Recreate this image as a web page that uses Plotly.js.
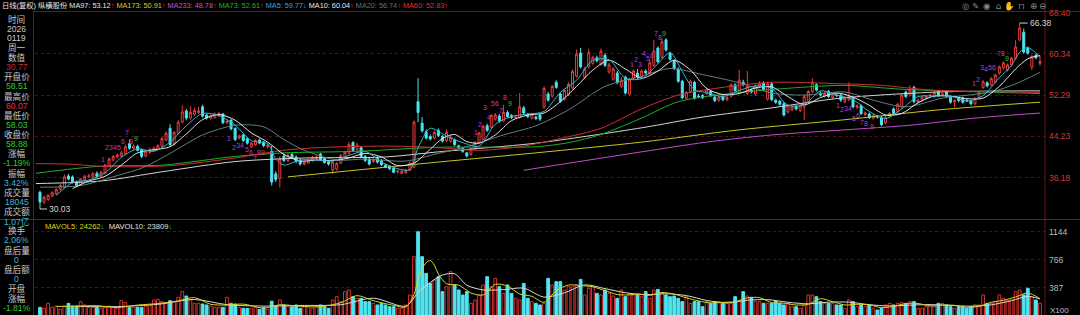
<!DOCTYPE html>
<html><head><meta charset="utf-8">
<script src="https://cdn.plot.ly/plotly-3.0.1.min.js"></script>
<style>html,body{margin:0;padding:0;background:#000;overflow:hidden}#chart{width:1080px;height:315px}</style>
</head><body><div id="chart"></div>
<script>
// ---------- DATA ----------
const open = [33.3,31.4,31.9,32.6,33.0,33.9,34.3,36.5,36.3,35.3,34.8,35.8,36.4,36.3,37.0,36.4,37.0,38.5,39.6,40.2,
40.4,40.8,42.8,41.9,42.3,41.6,40.4,41.1,41.5,41.7,42.3,43.5,45.8,42.7,44.8,47.0,49.2,47.8,48.5,48.9,
50.0,48.4,47.8,47.9,48.3,48.6,46.9,47.4,45.8,43.9,44.5,43.8,42.2,42.6,43.5,43.1,42.2,41.3,36.9,36.0,
40.4,39.5,40.7,40.2,39.6,38.8,39.0,39.5,39.9,40.8,39.9,39.2,37.6,37.8,39.0,40.2,40.9,43.0,41.6,42.0,
40.3,39.8,39.3,40.0,39.5,38.6,38.4,38.0,37.3,37.0,37.1,37.6,38.2,51.0,46.8,45.1,44.2,43.9,45.4,44.2,
43.4,43.3,43.5,42.4,41.9,41.0,40.7,41.8,43.0,43.6,46.3,46.0,47.6,48.2,47.2,48.9,48.3,47.9,47.9,49.8,
48.5,47.8,48.0,48.4,50.0,52.5,52.1,54.8,52.5,51.5,52.4,53.7,56.0,60.5,55.8,57.8,58.5,59.6,58.3,60.1,
56.8,55.4,56.6,54.0,55.8,52.5,55.6,56.6,55.8,57.0,56.6,58.1,61.5,59.7,63.1,60.5,59.0,57.4,55.0,51.7,
53.0,54.8,52.1,52.2,52.6,53.0,51.9,51.3,52.0,51.4,52.1,54.3,52.8,54.8,52.6,53.3,52.5,54.0,54.6,51.5,
54.5,51.3,51.1,50.6,49.0,49.4,50.1,49.3,50.0,51.0,53.0,54.3,52.7,52.1,53.0,51.8,52.3,52.3,51.0,51.4,
51.6,49.9,50.2,48.5,48.6,47.8,48.1,47.9,46.9,48.3,49.6,49.1,50.0,52.9,52.3,53.8,50.9,51.3,51.7,52.2,
52.0,53.0,52.3,53.0,51.9,51.0,51.7,51.7,51.3,51.1,50.6,51.8,53.8,54.7,54.3,54.9,56.6,57.6,57.2,58.2,
59.5,63.1,64.6,61.5,57.8,60.1,58.51];
const high = [33.6,32.6,32.9,33.5,34.1,34.9,36.8,36.9,36.6,35.6,36.1,36.7,36.9,37.3,37.4,37.5,38.9,40.1,40.6,40.9,
41.4,42.6,43.6,42.7,42.6,41.8,41.5,42.0,42.2,42.7,44.1,45.2,46.6,45.3,47.4,50.3,49.6,50.1,49.8,50.0,
50.4,48.7,48.5,48.9,49.0,48.8,47.5,47.6,46.0,44.6,44.7,44.0,43.2,43.7,43.8,43.3,42.8,42.4,37.4,40.3,
40.9,41.0,41.1,40.5,39.9,39.5,39.9,40.4,40.5,41.0,40.1,39.5,39.5,39.2,40.8,41.4,43.2,43.3,43.0,42.3,
40.6,40.0,40.0,40.3,39.8,38.9,38.6,38.3,37.7,37.7,37.9,39.3,47.3,55.6,48.0,45.6,44.6,45.4,45.8,44.5,
45.6,44.4,43.8,42.6,42.1,41.2,42.0,43.3,45.1,46.5,46.7,48.6,48.8,48.6,50.4,49.3,48.6,48.4,52.7,50.2,
48.8,48.8,48.3,48.6,54.0,52.9,54.3,55.2,52.8,53.5,54.8,57.3,61.2,61.5,57.8,61.4,60.0,60.0,61.4,60.5,
58.6,57.8,57.0,55.8,56.1,55.6,57.3,57.4,57.3,57.3,59.2,63.1,61.8,63.4,63.4,60.8,59.3,57.7,55.3,53.1,
55.3,55.1,52.5,52.5,53.7,53.3,52.2,52.2,52.3,52.1,54.6,54.6,57.2,55.3,57.0,53.6,54.4,55.0,55.0,54.9,
54.8,51.6,51.4,50.9,50.5,50.3,50.4,50.5,52.3,53.3,55.6,54.6,53.0,52.9,53.3,52.6,52.6,52.6,51.9,54.8,
51.9,50.5,50.5,49.1,48.9,48.6,48.4,48.2,48.2,49.0,49.9,50.8,52.6,53.2,54.2,54.1,51.6,52.2,52.3,52.6,
53.1,53.3,52.8,53.3,52.2,51.5,52.0,52.0,51.6,51.4,51.9,53.1,55.2,55.0,55.8,56.5,58.1,58.9,58.5,59.8,
63.1,66.38,65.3,61.8,60.2,60.4,60.07];
const low = [30.03,31.0,31.6,32.3,32.8,33.6,34.1,35.6,35.0,34.3,34.6,35.5,36.1,36.1,36.2,36.2,36.8,38.3,39.3,39.9,
40.1,40.6,41.6,41.6,41.3,40.0,40.1,40.8,41.3,41.5,42.1,43.3,42.3,42.4,44.6,46.8,47.4,47.5,48.2,48.6,
47.9,47.5,47.5,47.7,48.0,46.6,46.6,45.4,43.3,43.6,43.1,42.6,42.0,42.4,42.7,42.1,41.9,34.6,35.3,34.2,
39.2,39.2,39.8,39.0,38.5,38.5,38.8,39.2,39.6,39.4,38.9,38.5,36.9,37.5,38.8,40.0,40.7,41.2,41.3,40.0,
39.2,38.5,39.0,38.9,38.4,38.0,37.6,37.0,37.0,36.8,36.9,37.4,38.0,47.0,45.0,43.6,43.4,43.6,44.1,43.0,
43.1,43.0,42.3,41.8,41.0,40.1,40.4,41.6,42.8,43.4,45.1,45.8,47.3,46.9,47.0,47.8,47.6,47.6,47.7,48.5,
47.8,47.6,47.4,47.2,49.6,51.0,51.8,53.5,50.8,51.2,52.1,53.4,55.7,57.5,55.4,57.5,58.2,58.7,58.0,57.8,
56.5,55.1,54.4,53.7,52.4,52.2,55.3,55.4,55.5,56.3,56.3,57.8,58.5,59.4,60.8,59.0,57.2,54.7,51.5,51.4,
52.7,51.4,51.7,51.5,52.3,51.9,50.9,51.0,51.1,51.1,51.8,52.9,52.5,54.0,52.3,52.6,52.2,53.7,53.1,51.2,
51.1,50.6,50.2,48.1,48.7,49.1,49.3,49.0,47.4,50.7,52.7,53.0,52.0,51.8,51.7,51.5,51.9,51.0,50.7,51.1,
49.7,49.6,48.4,48.2,47.6,47.5,47.7,46.2,46.6,48.0,48.4,48.8,49.7,51.7,52.0,50.7,50.6,51.0,51.4,51.9,
51.7,51.9,52.0,51.8,50.6,49.9,50.9,50.6,50.9,50.3,50.3,51.5,53.5,53.8,54.0,54.6,56.3,57.3,56.9,57.9,
59.2,62.8,60.4,60.2,57.2,59.3,58.03];
const close = [31.4,32.3,32.7,33.2,33.8,34.6,36.3,35.9,35.2,34.6,35.9,36.4,36.5,36.9,36.4,37.2,38.6,39.8,40.3,40.6,
41.0,42.2,41.9,42.3,41.5,40.3,41.2,41.7,41.9,42.4,43.8,44.8,42.6,45.0,47.0,49.0,47.8,48.9,49.3,49.2,
48.2,47.8,48.2,48.6,48.7,46.9,47.2,45.7,43.6,44.3,43.4,42.9,42.9,43.4,42.9,42.4,42.5,35.3,35.8,39.8,
39.5,40.5,40.0,39.3,38.8,39.2,39.6,40.1,40.2,39.7,39.1,38.8,39.2,38.9,40.5,41.1,42.6,41.5,42.5,40.3,
39.5,38.8,39.7,39.2,38.7,38.2,37.9,37.2,37.4,37.4,37.6,39.0,47.0,48.9,45.3,43.9,43.7,45.0,44.4,43.3,
45.0,44.0,42.6,42.1,41.3,40.4,41.8,43.1,44.9,46.2,45.4,48.3,48.4,47.2,48.9,48.1,47.9,48.0,50.0,48.8,
48.1,48.5,47.7,47.6,53.6,51.3,54.0,53.8,51.1,53.2,54.4,56.9,60.3,57.8,57.4,60.6,59.6,59.0,60.9,58.1,
58.2,57.4,54.7,55.2,52.7,55.3,57.0,55.7,57.0,56.6,58.6,60.9,58.8,62.7,61.1,59.3,57.5,55.0,51.8,52.8,
55.0,51.7,52.0,51.8,53.3,52.2,51.2,51.9,51.4,51.8,54.3,53.2,55.2,54.3,54.0,52.9,54.1,54.6,53.4,54.5,
51.4,50.9,50.5,48.4,50.2,50.0,49.6,50.2,52.0,53.0,54.8,53.3,52.3,52.6,52.0,52.3,52.2,51.3,51.6,52.1,
50.0,50.2,48.7,48.8,47.9,48.3,48.0,46.5,47.9,48.7,48.7,50.5,52.3,52.0,53.3,51.0,51.3,51.9,52.0,52.3,
52.8,52.2,52.5,52.1,50.9,51.2,51.2,50.9,51.2,50.6,51.6,52.8,54.9,54.1,55.5,56.2,57.8,58.6,58.2,59.5,
61.7,65.4,60.7,60.5,59.8,59.59,58.88];
const volume = [125,112,179,125,143,98,143,179,143,143,202,157,125,125,125,112,125,143,125,112,
215,188,125,125,125,125,143,157,224,233,202,179,215,202,260,337,278,224,179,179,
170,157,143,125,125,125,260,179,170,125,112,112,112,125,98,125,98,208,143,224,
157,134,134,157,112,134,134,112,134,157,134,112,224,269,202,337,359,269,247,247,
202,202,179,157,179,157,134,134,112,112,157,292,809,1146,809,584,449,494,539,
337,404,607,427,359,292,337,179,224,292,427,539,404,517,404,314,427,314,247,224,
449,247,202,179,157,179,517,427,472,472,359,404,404,427,503,292,382,404,314,292,
359,314,278,247,359,269,314,292,292,
269,337,247,359,367,314,292,269,278,247,202,269,179,202,202,134,202,179,202,202,
179,179,179,269,202,337,278,260,202,202,179,179,179,211,179,157,179,134,134,112,
157,292,292,269,202,179,179,179,157,
157,112,224,202,134,157,134,157,112,89,112,157,179,157,179,188,179,202,202,112,
112,134,157,134,179,179,157,134,112,134,134,112,134,157,157,292,179,179,202,292,
247,224,224,337,359,292,382,269,224,180];

// moving-average lines, read as points off the picture (index, value)
const ma5Idx = [4,8,12,16,20,24,28,32,36,40,44,48,52,56,58,60,64,68,72,76,80,84,88,91,93,96,100,104,108,112,116,120,124,128,132,136,140,144,148,152,155,158,161,164,168,172,176,180,184,188,192,196,200,204,208,212,216,220,224,228,232,236,239,241,243,246];
const ma5Val = [32.7,35.2,35.7,37.1,40.1,41.8,41.3,43.1,46.3,48.7,48.3,46.4,43.4,42.8,39.8,38.6,39.6,39.6,39.4,40.5,41.3,39.2,37.9,37.7,42.0,45.8,44.3,43.0,42.3,46.6,48.1,48.6,49.1,52.8,55.2,59.1,59.2,55.6,55.5,58.4,60.6,56.9,53.3,52.8,52.0,53.2,54.1,53.6,50.3,50.4,53.1,52.3,51.4,49.1,47.7,49.6,52.0,52.1,52.1,51.1,52.2,55.7,58.1,60.7,61.6,59.77];
const ma10Idx = [8,12,16,20,24,28,32,36,40,44,48,52,56,60,64,68,72,76,80,84,88,92,96,99,102,105,108,112,116,120,124,128,132,136,140,144,148,152,156,160,164,168,172,176,180,184,188,192,196,200,204,208,212,216,220,224,228,232,236,240,243,246];
const ma10Val = [34.0,35.5,36.4,38.6,41.0,41.6,42.2,44.7,47.5,48.5,47.4,44.9,43.1,40.7,39.4,39.6,39.5,40.0,40.9,40.2,38.5,39.0,41.7,43.8,44.6,43.2,42.9,44.5,47.3,48.4,48.8,51.0,54.0,57.2,59.1,57.4,55.6,57.0,59.1,57.2,53.6,52.4,52.6,53.7,53.9,52.0,50.4,51.8,52.7,51.9,50.3,48.4,48.7,50.8,52.1,52.1,51.6,51.7,54.0,57.4,59.4,60.04];
const ma20Idx = [0,10,20,25,30,35,40,48,55,60,65,73,80,90,98,105,114,122,130,139,148,155,163,172,180,188,198,205,213,222,234,240,246];
const ma20Val = [34.3,34.6,36.8,38.0,40.0,42.3,44.5,46.4,46.1,43.6,41.5,39.6,39.8,39.4,40.9,42.2,44.5,46.3,49.4,54.0,56.0,57.5,56.3,54.7,52.7,52.3,52.9,51.3,50.0,51.7,52.9,54.5,56.74];
const ma60Idx = [-1,7,17,32,48,61,74,89,98,108,118,128,138,148,157,167,180,197,207,219,246];
const ma60Val = [38.9,38.8,38.3,38.5,40.0,41.6,42.2,42.3,42.0,41.5,42.2,43.8,45.8,49.6,52.3,53.7,54.8,54.5,54.2,53.3,52.83];
const ma73Idx = [-1,15,30,48,60,78,98,122,130,138,148,157,172,189,198,213,246];
const ma73Val = [37.0,38.4,38.6,40.3,41.0,41.3,42.1,42.2,43.0,44.6,47.8,51.0,52.8,53.9,54.2,53.4,52.61];
const ma97Idx = [-1,15,30,48,65,85,98,122,148,163,180,197,221,246];
const ma97Val = [35.0,35.5,37.3,39.3,40.0,40.2,41.2,42.9,45.9,48.0,49.8,51.7,52.9,53.12];
const ma173Idx = [61,98,122,148,172,197,221,246];
const ma173Val = [36.3,39.2,41.0,43.1,45.5,47.4,49.4,50.91];
const ma233Idx = [119,148,164,180,198,214,230,246];
const ma233Val = [37.6,41.2,43.1,44.5,45.5,46.4,47.8,48.78];
const mavol5Idx = [4,9,14,19,24,29,34,38,42,46,50,55,59,64,69,74,78,82,87,90,92,93,94,95,96,97,98,100,103,106,109,112,115,118,121,124,127,130,133,136,139,142,145,147,150,153,156,159,162,165,168,171,174,177,180,183,186,189,192,195,198,201,204,207,210,213,216,219,222,225,228,231,234,237,240,243,246];
const mavol5Val = [137,141,147,123,156,176,212,256,166,156,169,114,160,139,134,188,283,215,152,130,296,503,643,728,759,696,575,443,425,319,292,436,413,305,274,193,350,427,419,402,350,298,293,305,287,325,304,253,211,184,193,202,253,256,188,181,157,166,242,202,157,166,157,121,139,176,177,143,157,152,125,139,193,220,265,319,242.6];
const mavol10Idx = [9,19,29,38,46,55,64,74,82,90,93,96,99,102,105,109,114,119,124,129,134,139,144,149,154,159,164,169,174,179,184,189,194,199,204,209,214,219,224,229,234,239,243,246];
const mavol10Val = [139,135,166,231,161,142,150,161,249,141,323,460,561,579,424,360,364,384,263,321,428,378,322,297,308,284,218,186,221,229,193,173,195,195,161,143,155,162,150,141,159,215,274,238.1];

// price / volume axis tick labels
const priceTicks = [36.18,44.23,52.29,60.34,68.40];
const priceTickText = ['36.18','44.23','52.29','60.34','68.40'];
const volTicks = [387,766,1144];
const volTickText = ['387','766','1144'];

// sequence-count digits drawn over the candles: [index, price, digit]
const tdMarks = [
 [15.5,39.8,'1'],[16.5,42.1,'2'],[17.5,42.1,'3'],[18.5,42.1,'4'],[19.5,42.1,'5'],[20.5,43.3,'6'],[21.5,45.0,'7'],[22.5,43.3,'8'],[23.5,43.9,'9'],
 [46.5,43.9,'1'],[47.6,42.1,'2'],[48.6,42.5,'3'],[49.6,42.5,'4'],[50.8,41.7,'5'],[51.8,41.0,'6'],[52.8,39.9,'7'],[53.8,41.0,'8'],[54.8,41.0,'9'],
 [107.2,45.05,'1'],[108.2,46.6,'2'],[109.4,49.8,'3'],[110.4,48.0,'4'],[111.5,50.7,'5'],[112.5,50.7,'6'],[113.5,49.2,'7'],[114.5,51.8,'8'],[115.6,50.7,'9'],
 [145.6,58.2,'1'],[146.6,59.3,'2'],[147.6,58.2,'3'],[148.6,60.5,'4'],[149.6,59.5,'5'],[150.6,60.1,'6'],[151.6,64.4,'7'],[152.6,63.6,'8'],[153.6,64.4,'9'],
 [196.2,50.2,'1'],[197.2,49.4,'2'],[198.2,49.6,'3'],[199.2,49.6,'4'],[200.2,47.8,'5'],[201.2,48.4,'6'],[202.3,47.0,'7'],[203.3,46.8,'8'],[204.6,46.1,'9'],
 [229.8,54.5,'1'],[230.8,55.3,'2'],[231.8,57.6,'3'],[232.8,57.3,'4'],[233.8,57.6,'5'],[234.8,57.6,'6'],[235.8,60.5,'7'],[236.8,60.5,'8'],[237.8,59.5,'9']
];
const tdNineColor = ['#22d022','#e04848','#22d022','#22d022','#e04848','#22d022'];

// ---------- STYLE / LAYOUT ----------
const days = close.map((_, i) => i);
const RED = '#f03c3c', CYAN = '#4fe4f0';
const up = close.map((c, i) => c >= open[i]);
const volFill = up.map(u => u ? 'rgba(0,0,0,0)' : CYAN);
const volLine = up.map(u => u ? '#d83030' : CYAN);

const L = 35, R = 1045, H = 315;
const px = x => (x - L) / (R - L);
const py = y => 1 - y / H;
const FAM = 'Liberation Sans, Noto Sans CJK SC, sans-serif';

function maLine(xs, ys, color, yaxis) {
  return {type:'scatter', mode:'lines', x:xs, y:ys, xaxis:'x', yaxis:yaxis||'y',
    line:{color:color, width:1, shape:'spline', smoothing:0.8}, hoverinfo:'skip'};
}

const traces = [
  maLine(ma233Idx, ma233Val, '#c04ec8'),
  maLine(ma173Idx, ma173Val, '#c8c81e'),
  maLine(ma97Idx, ma97Val, '#d4d4d4'),
  maLine(ma73Idx, ma73Val, '#1fae1f'),
  maLine(ma60Idx, ma60Val, '#cc3030'),
  maLine(ma20Idx, ma20Val, '#5f8080'),
  maLine(ma10Idx, ma10Val, '#e6e6e6'),
  maLine(ma5Idx, ma5Val, '#35b6d2'),
  {type:'candlestick', x:days, open:open, high:high, low:low, close:close, xaxis:'x', yaxis:'y',
   whiskerwidth:0, hoverinfo:'skip',
   increasing:{line:{color:RED, width:1}, fillcolor:'#000000'},
   decreasing:{line:{color:CYAN, width:1}, fillcolor:CYAN}},
  {type:'bar', x:days, y:volume, xaxis:'x', yaxis:'y2', width:0.68, hoverinfo:'skip',
   marker:{color:volFill, line:{color:volLine, width:1}}},
  maLine(mavol10Idx, mavol10Val, '#d8d8d8', 'y2'),
  maLine(mavol5Idx, mavol5Val, '#d6d620', 'y2')
];

const ann = [];
function txt(x, y, text, color, size, anchor, fam) {
  ann.push({xref:'paper', yref:'paper', x:px(x), y:py(y), text:text, showarrow:false,
    xanchor:anchor||'left', yanchor:'middle', borderpad:0,
    font:{color:color, size:size||8, family:fam||FAM}});
}
const sp = (c, t) => '<span style="color:' + c + '">' + t + '</span>';
const upA = sp('#e03030', '↑');
const dnA = sp('#20c0a0', '↓');
// header (one line)
txt(1, 5.5,
  sp('#e8e8e8', '日线(复权) 纵横股份') + ' ' +
  sp('#e6e6e6', 'MA97: 53.12') + upA + ' ' +
  sp('#d0d020', 'MA173: 50.91') + upA + ' ' +
  sp('#c850d0', 'MA233: 48.78') + upA + ' ' +
  sp('#22b822', 'MA73: 52.61') + upA + ' ' +
  sp('#35a8d8', 'MA5: 59.77') + dnA + ' ' +
  sp('#e6e6e6', 'MA10: 60.04') + upA + ' ' +
  sp('#4f7c7c', 'MA20: 56.74') + upA + ' ' +
  sp('#e03030', 'MA60: 52.83') + upA,
  '#e6e6e6', 7.3);
// toolbar glyphs
const icons = ['◎','✎','◉','⌂','✋','⊓','⊕','⊖'];
const iconX = [965,975,986,998,1009,1021,1033,1042];
icons.forEach((g, i) => txt(iconX[i], 6, g, '#8c8c8c', 8.5, 'center', 'DejaVu Sans'));
// volume header
txt(44, 226, sp('#d8d820', 'MAVOL5: 24262') + dnA + '  ' + sp('#e0e0e0', 'MAVOL10: 23809') + dnA, '#e0e0e0', 7.6);
txt(1049, 310, 'X100', '#c0c0c0', 8);
// left info panel
const G = '#2ccf2c', LB = '#c8c8c8', CY = '#38b8dc';
const rows = [['时间',LB],['2026',LB],['0119',LB],['周一',LB],['数值',LB],['30.77','#c03030'],
  ['开盘价',LB],['58.51',G],['最高价',LB],['60.07','#e83838'],['最低价',LB],['58.03',G],
  ['收盘价',LB],['58.88',G],['涨幅',LB],['-1.19%',G],['振幅',LB],['3.42%',CY],
  ['成交量',LB],['18045',CY],['成交额',LB],['1.07亿',CY],['换手',LB],['2.06%',CY],
  ['盘后量',LB],['0',CY],['盘后额',LB],['0',CY],['开盘',LB],['涨幅',LB],['-1.81%',G]];
rows.forEach((r, i) => txt(16.5, 19 + i * 9.63, r[0], r[1], 8.6, 'center'));
// sequence digits
let nine = 0;
tdMarks.forEach(m => {
  const c = m[2] === '9' ? tdNineColor[nine++] : '#c23cc8';
  ann.push({xref:'x', yref:'y', x:m[0], y:m[1], text:m[2], showarrow:false, borderpad:0,
    font:{color:c, size:7, family:'Liberation Sans'}});
});
// high / low markers
ann.push({xref:'x', yref:'y', x:241, y:66.38, text:'66.38', showarrow:true, arrowhead:0,
  arrowwidth:1, arrowcolor:'#cfcfcf', ax:8, ay:0, xanchor:'left',
  font:{color:'#d6d6d6', size:8.5, family:'Liberation Sans'}});
ann.push({xref:'x', yref:'y', x:0, y:30.03, text:'30.03', showarrow:true, arrowhead:0,
  arrowwidth:1, arrowcolor:'#cfcfcf', ax:7, ay:0, xanchor:'left',
  font:{color:'#d6d6d6', size:8.5, family:'Liberation Sans'}});

const BR = '#6e1414';
const shapes = [
  {type:'line', xref:'paper', yref:'paper', x0:1, x1:1, y0:0, y1:1, line:{color:BR, width:1}},
  {type:'line', xref:'paper', yref:'paper', x0:px(33.5), x1:px(33.5), y0:0, y1:py(11), line:{color:BR, width:1}},
  {type:'line', xref:'paper', yref:'paper', x0:px(33), x1:px(1080), y0:py(11.5), y1:py(11.5), line:{color:BR, width:1}},
  {type:'line', xref:'paper', yref:'paper', x0:px(0), x1:px(1080), y0:py(219.5), y1:py(219.5), line:{color:'#7a1616', width:1}}
];

const layout = {
  width:1080, height:315, margin:{l:L, r:1080-R, t:0, b:0, pad:0},
  paper_bgcolor:'#000', plot_bgcolor:'#000', showlegend:false, hovermode:false, dragmode:false,
  font:{family:FAM, color:'#ccc', size:8},
  xaxis:{domain:[0,1], range:[-1.23,247.23], anchor:'y2', showgrid:false, zeroline:false,
    showticklabels:false, showline:false, ticks:'', rangeslider:{visible:false}, fixedrange:true},
  yaxis:{domain:[py(219), py(12)], range:[28.07,68.54], side:'right', anchor:'x',
    tickvals:priceTicks, ticktext:priceTickText, ticks:'', ticklabelstandoff:3,
    tickfont:{color:'#d23a3a', size:8.5, family:'Liberation Sans'},
    showgrid:true, gridcolor:'#5a1010', griddash:'dot', gridwidth:1, zeroline:false, showline:false, fixedrange:true},
  yaxis2:{domain:[0, py(221)], range:[21.6,1291], side:'right', anchor:'x',
    tickvals:volTicks, ticktext:volTickText, ticks:'', ticklabelstandoff:3,
    tickfont:{color:'#bcbcbc', size:8.5, family:'Liberation Sans'},
    showgrid:true, gridcolor:'#5a1010', griddash:'dot', gridwidth:1, zeroline:false, showline:false, fixedrange:true},
  annotations:ann, shapes:shapes
};

Plotly.newPlot('chart', traces, layout, {displayModeBar:false, staticPlot:true});
</script>
</body></html>
